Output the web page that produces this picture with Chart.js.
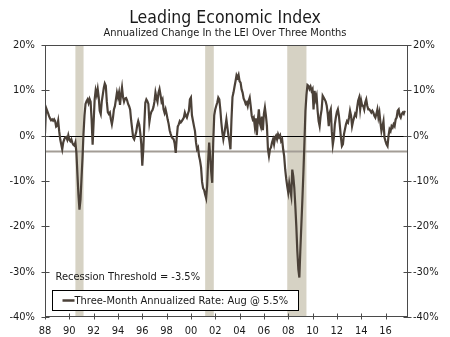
<!DOCTYPE html>
<html>
<head>
<meta charset="utf-8">
<title>Leading Economic Index</title>
<script src="https://cdn.jsdelivr.net/npm/chart.js"></script>
<style>
  html, body { margin: 0; padding: 0; background: #fff; }
</style>
</head>
<body>
<canvas id="leiChart" width="450" height="337"></canvas>
<script>
// LEI, three-month annualized % change, monthly (Jan..Dec) per year
const lei1988 = [0.5, 6.2, 5.6, 5.0, 4.3, 3.8, 3.4, 3.6, 3.3, 3.6, 3.2, 2.0];
const lei1989 = [2.2, 3.3, 1.0, -0.8, -1.9, -3.0, -1.5, -0.8, -0.4, -0.3, -0.9, 0.1];
const lei1990 = [-0.9, -1.2, -0.8, -1.6, -2.0, -2.2, -1.5, -3.8, -8.5, -13.0, -16.3, -14.2];
const lei1991 = [-9.5, -5.0, 0.5, 4.5, 7.0, 7.6, 8.0, 7.2, 8.1, 7.5, 3.5, -2.0];
const lei1992 = [3.0, 8.0, 10.0, 9.0, 10.3, 8.5, 5.5, 4.8, 7.5, 9.0, 10.5, 11.5];
const lei1993 = [11.0, 7.5, 5.2, 4.8, 5.1, 3.6, 2.5, 3.8, 5.8, 6.5, 8.0, 9.5];
const lei1994 = [8.5, 9.5, 6.8, 9.0, 10.6, 8.5, 7.5, 8.2, 8.3, 7.8, 7.0, 6.5];
const lei1995 = [5.8, 3.4, 1.5, -0.4, -0.8, 0.0, 0.8, 2.3, 3.2, 2.4, 0.6, -1.8];
const lei1996 = [-6.6, -3.0, 2.5, 7.3, 8.0, 7.6, 7.0, 3.0, 4.5, 5.3, 5.6, 6.3];
const lei1997 = [7.5, 9.5, 8.3, 7.5, 9.5, 10.3, 9.0, 7.5, 8.0, 5.8, 5.0, 5.8];
const lei1998 = [4.8, 3.6, 2.6, 1.2, 0.4, -0.3, -0.6, -0.8, -1.8, -3.8, -0.5, 2.0];
const lei1999 = [2.5, 3.2, 2.9, 3.2, 3.6, 4.0, 5.1, 4.4, 4.0, 4.8, 5.5, 8.0];
const lei2000 = [8.4, 4.5, 3.3, 2.1, 1.0, -1.5, -3.0, -2.6, -4.5, -5.5, -7.0, -10.2];
const lei2001 = [-11.6, -12.0, -13.0, -13.8, -11.0, -5.5, -1.5, -4.5, -8.0, -10.4, -1.5, 4.5];
const lei2002 = [5.8, 6.6, 7.3, 8.4, 8.0, 5.8, 2.9, 0.7, -0.8, 0.5, 2.0, 3.6];
const lei2003 = [1.8, 0.0, -1.2, -3.0, 3.5, 8.5, 9.5, 10.8, 12.0, 13.3, 12.8, 13.4];
const lei2004 = [12.0, 11.7, 10.2, 9.5, 8.2, 7.7, 7.0, 7.3, 6.5, 7.7, 8.4, 6.5];
const lei2005 = [4.4, 3.6, 4.0, 2.1, 3.8, 0.1, 3.2, 5.8, 2.8, 2.0, 4.2, 1.2];
const lei2006 = [4.8, 6.2, 4.4, 2.1, -3.0, -4.5, -3.0, -2.6, -1.5, -0.8, -1.9, -0.4];
const lei2007 = [0.0, -0.8, 0.3, -0.3, 0.1, -1.2, -0.8, -3.0, -4.5, -7.4, -9.5, -11.1];
const lei2008 = [-12.5, -10.5, -12.0, -13.3, -7.5, -9.0, -11.5, -15.5, -20.0, -25.5, -29.5, -31.3];
const lei2009 = [-25.0, -19.5, -14.0, -8.0, -1.5, 5.5, 9.0, 11.2, 11.0, 10.3, 10.8, 9.9];
const lei2010 = [10.3, 5.8, 9.9, 8.0, 8.8, 5.5, 3.2, 2.1, 4.4, 5.8, 8.8, 8.4];
const lei2011 = [8.0, 7.5, 6.6, 4.8, 2.1, 5.1, 5.8, 1.0, -2.0, -0.5, 2.5, 4.0];
const lei2012 = [5.2, 5.8, 4.4, 2.1, -0.4, -2.3, -1.9, 0.3, 1.4, 2.5, 3.2, 2.9];
const lei2013 = [4.0, 5.5, 4.4, 2.1, 3.2, 4.0, 4.8, 4.4, 6.2, 7.7, 8.4, 5.8];
const lei2014 = [7.7, 6.6, 6.6, 5.8, 7.3, 8.0, 6.6, 5.8, 5.8, 5.5, 5.1, 5.5];
const lei2015 = [5.1, 4.4, 4.0, 4.8, 5.8, 4.0, 5.1, 2.9, 1.0, 2.1, 3.2, -0.4];
const lei2016 = [-1.2, -1.9, -2.3, 0.0, 1.4, 1.0, 2.1, 1.8, 2.5, 2.1, 3.6, 4.0];
const lei2017 = [5.5, 5.8, 4.4, 4.0, 4.8, 5.1, 4.8, 5.5];

const firstYear = 1988;
const lastYear = 2017.85;
// NBER recessions as decimal years (peak month to trough month)
const recessionStart = [1990.5, 2001.17, 2007.92];
const recessionEnd = [1991.17, 2001.88, 2009.5];
const recessionThreshold = -3.5;
const latestMonth = 'Aug';
const latestValue = 5.5;

const years = [lei1988, lei1989, lei1990, lei1991, lei1992, lei1993, lei1994, lei1995,
  lei1996, lei1997, lei1998, lei1999, lei2000, lei2001, lei2002, lei2003, lei2004,
  lei2005, lei2006, lei2007, lei2008, lei2009, lei2010, lei2011, lei2012, lei2013,
  lei2014, lei2015, lei2016, lei2017];

const points = years.flatMap((vals, i) =>
  vals.map((v, m) => ({ x: firstYear + i + m / 12, y: v })));

const FONT = "'DejaVu Sans Condensed', 'DejaVu Sans', sans-serif";
const LINE_COLOR = '#4b4138';
const TEXT_COLOR = '#1a1a1a';

// shading, zero line, threshold line, frame, tick marks and the inset legend
const decorations = {
  id: 'decorations',
  beforeDatasetsDraw(chart) {
    const { ctx, chartArea: a, scales: { x, y } } = chart;
    ctx.save();
    ctx.fillStyle = '#d6d2c4';
    recessionStart.forEach((s, i) => {
      const x0 = x.getPixelForValue(s);
      const x1 = x.getPixelForValue(recessionEnd[i]);
      ctx.fillRect(x0, a.top, x1 - x0, a.bottom - a.top);
    });
    const yt = y.getPixelForValue(recessionThreshold);
    ctx.strokeStyle = '#a39d96';
    ctx.lineWidth = 2;
    ctx.beginPath();
    ctx.moveTo(a.left, yt);
    ctx.lineTo(a.right, yt);
    ctx.stroke();
    const y0 = Math.round(y.getPixelForValue(0)) + 0.5;
    ctx.strokeStyle = '#000';
    ctx.lineWidth = 1;
    ctx.beginPath();
    ctx.moveTo(a.left, y0);
    ctx.lineTo(a.right, y0);
    ctx.stroke();
    ctx.restore();
  },
  afterDraw(chart) {
    const { ctx, chartArea: a, scales: { x, y } } = chart;
    const L = Math.round(a.left) + 0.5, R = Math.round(a.right) - 0.5;
    const T = Math.round(a.top) + 0.5, B = Math.round(a.bottom) - 0.5;
    ctx.save();
    ctx.strokeStyle = '#4a4a4a';
    ctx.lineWidth = 1;
    ctx.strokeRect(L, T, R - L, B - T);
    ctx.beginPath();
    y.ticks.forEach(t => {
      const p = Math.round(y.getPixelForValue(t.value)) + 0.5;
      ctx.moveTo(L - 4, p); ctx.lineTo(L + 4, p);
      ctx.moveTo(R - 4, p); ctx.lineTo(R + 4, p);
    });
    x.ticks.forEach(t => {
      const p = Math.round(x.getPixelForValue(t.value)) + 0.5;
      ctx.moveTo(p, B - 3); ctx.lineTo(p, B + 3);
    });
    ctx.stroke();

    // threshold note
    ctx.fillStyle = TEXT_COLOR;
    ctx.font = '11px ' + FONT;
    ctx.textBaseline = 'middle';
    ctx.textAlign = 'left';
    ctx.fillText('Recession Threshold = ' + recessionThreshold + '%', L + 10, B - 39);

    // legend box
    const bx = L + 7, by = B - 26, bw = 246, bh = 20;
    ctx.fillStyle = '#fff';
    ctx.fillRect(bx, by, bw, bh);
    ctx.strokeStyle = '#000';
    ctx.strokeRect(bx, by, bw, bh);
    const ly = by + bh / 2;
    ctx.strokeStyle = LINE_COLOR;
    ctx.lineWidth = 2.5;
    ctx.beginPath();
    ctx.moveTo(bx + 10, ly);
    ctx.lineTo(bx + 22, ly);
    ctx.stroke();
    ctx.fillStyle = TEXT_COLOR;
    ctx.fillText('Three-Month Annualized Rate: ' + latestMonth + ' @ ' + latestValue.toFixed(1) + '%', bx + 22, ly + 0.5);
    ctx.restore();
  }
};

const yTicks = (pad) => ({
  stepSize: 10,
  padding: pad,
  color: TEXT_COLOR,
  font: { family: FONT, size: 11 },
  callback: v => v + '%'
});

new Chart(document.getElementById('leiChart'), {
  type: 'line',
  data: {
    datasets: [{
      label: 'Three-Month Annualized Rate',
      data: points,
      borderColor: LINE_COLOR,
      borderWidth: 2.2,
      pointRadius: 0,
      tension: 0,
      fill: false
    }]
  },
  options: {
    responsive: false,
    animation: false,
    parsing: false,
    plugins: {
      legend: { display: false },
      tooltip: { enabled: false },
      title: {
        display: true,
        text: 'Leading Economic Index',
        color: TEXT_COLOR,
        font: { family: FONT, size: 17.5, weight: 'normal', lineHeight: 1 },
        padding: { top: 10, bottom: 0 }
      },
      subtitle: {
        display: true,
        text: 'Annualized Change In the LEI Over Three Months',
        color: TEXT_COLOR,
        font: { family: FONT, size: 11, lineHeight: 1 },
        padding: { top: 0, bottom: 6.5 }
      }
    },
    scales: {
      x: {
        type: 'linear',
        min: firstYear,
        max: lastYear,
        grid: { display: false, drawTicks: false },
        border: { display: false },
        ticks: {
          stepSize: 2,
          includeBounds: false,
          autoSkip: false,
          maxRotation: 0,
          padding: 8,
          color: TEXT_COLOR,
          font: { family: FONT, size: 11 },
          callback: v => String(v % 100).padStart(2, '0')
        },
        afterFit: s => { s.height = 20; }
      },
      y: {
        position: 'left',
        min: -40, max: 20,
        grid: { display: false, drawTicks: false },
        border: { display: false },
        ticks: yTicks(10),
        afterFit: s => { s.width = 45; }
      },
      y2: {
        position: 'right',
        min: -40, max: 20,
        grid: { display: false, drawTicks: false },
        border: { display: false },
        ticks: yTicks(5),
        afterFit: s => { s.width = 42; }
      }
    }
  },
  plugins: [decorations]
});
</script>
</body>
</html>
